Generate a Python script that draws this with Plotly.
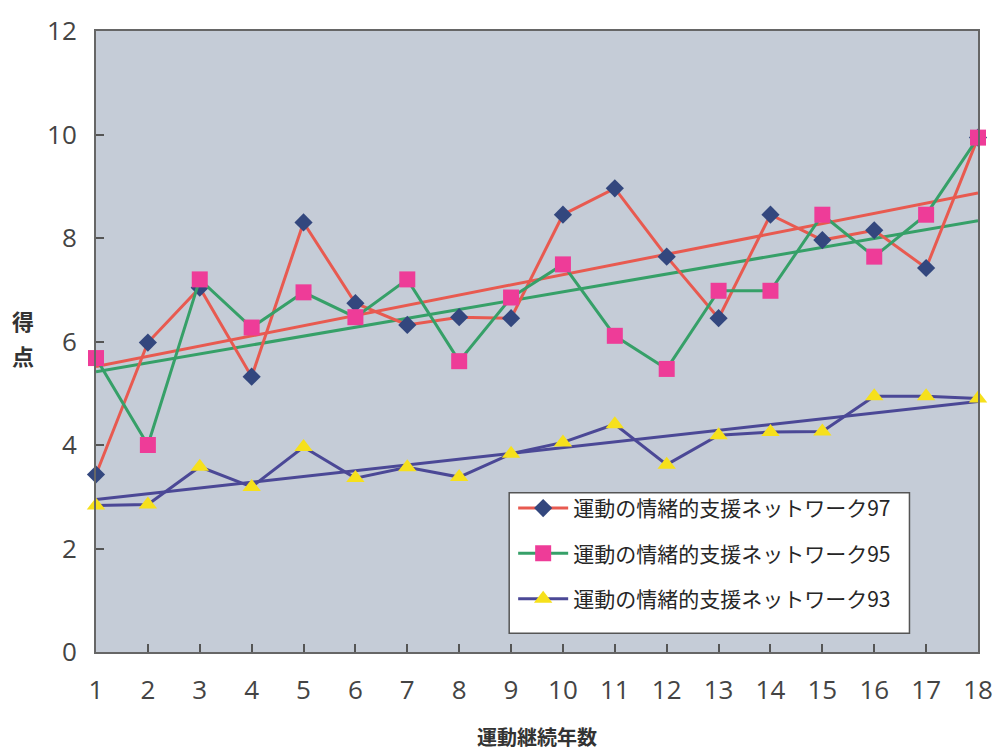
import numpy as np
import plotly.graph_objects as go

years = list(range(1, 19))
series_names = ["運動の情緒的支援ネットワーク97", "運動の情緒的支援ネットワーク95", "運動の情緒的支援ネットワーク93"]
net97 = [3.43, 5.98, 7.04, 5.32, 8.30, 6.74, 6.32, 6.47, 6.45, 8.45, 8.96, 7.64, 6.45, 8.45, 7.96, 8.15, 7.42, 9.94]
net95 = [5.68, 4.00, 7.20, 6.27, 6.95, 6.47, 7.20, 5.62, 6.85, 7.49, 6.11, 5.47, 6.98, 6.98, 8.45, 7.64, 8.45, 9.94]
net93 = [2.83, 2.85, 3.58, 3.19, 3.96, 3.36, 3.57, 3.38, 3.83, 4.05, 4.40, 3.62, 4.19, 4.25, 4.26, 4.94, 4.94, 4.90]
y_ticks = [0, 2, 4, 6, 8, 10, 12]

line_colors = ["#e85a50", "#36a068", "#4b4896"]
marker_colors = ["#33477e", "#ee3c98", "#f6e01c"]
marker_symbols = ["diamond", "square", "triangle-up"]
marker_sizes = [14, 16, 16]

W, H = 1005, 751
L, R, T, B = 96, 21, 20, 99
pw, ph = W - L - R, H - T - B

def px_x(x):
    return (x - L) / pw

def px_y(y):
    return (H - B - y) / ph

fig = go.Figure()
all_series = [net97, net95, net93]

# trend lines (linear fit of each series)
xs = np.array(years, dtype=float)
for vals, lc in zip(all_series, line_colors):
    k, b0 = np.polyfit(xs, np.array(vals), 1)
    fig.add_trace(go.Scatter(x=[xs[0], xs[-1]], y=[k * xs[0] + b0, k * xs[-1] + b0],
                             mode="lines", line=dict(color=lc, width=3),
                             showlegend=False, hoverinfo="skip"))

for i, (vals, name) in enumerate(zip(all_series, series_names)):
    fig.add_trace(go.Scatter(
        x=years, y=vals, name=name, mode="lines+markers",
        line=dict(color=line_colors[i], width=3),
        marker=dict(symbol=marker_symbols[i], color=marker_colors[i], size=marker_sizes[i],
                    line=dict(width=0)),
        legendgroup=f"g{i}", cliponaxis=False))

fig.update_layout(
    width=W, height=H,
    margin=dict(l=L, r=R, t=T, b=B),
    paper_bgcolor="white",
    plot_bgcolor="#c5ccd7",
    showlegend=True,
    legend=dict(x=px_x(516), y=px_y(485), xanchor="left", yanchor="top",
                bgcolor="rgba(0,0,0,0)", borderwidth=0,
                font=dict(family="Noto Sans CJK JP", size=21, color="#262626"),
                tracegroupgap=15, itemwidth=50),
    xaxis=dict(range=[1, 18], tickmode="array", tickvals=years, ticktext=[str(v) for v in years],
               ticks="inside", ticklen=8, tickwidth=1.5, tickcolor="#555555",
               showline=True, linecolor="#666666", linewidth=2, mirror=True,
               showgrid=False, zeroline=False, ticklabelstandoff=14,
               tickfont=dict(family="Open Sans", size=26, color="#444444")),
    yaxis=dict(range=[0, 12], tickmode="array", tickvals=y_ticks, ticktext=[str(v) for v in y_ticks],
               ticks="inside", ticklen=8, tickwidth=1.5, tickcolor="#555555",
               showline=True, linecolor="#666666", linewidth=2, mirror=True,
               showgrid=False, zeroline=False, ticklabelstandoff=12,
               tickfont=dict(family="Open Sans", size=26, color="#444444")),
    shapes=[dict(type="rect", xref="paper", yref="paper",
                 x0=px_x(512), x1=px_x(915), y0=px_y(633), y1=px_y(490),
                 fillcolor="white", line=dict(color="#555555", width=1.5), layer="above")],
    annotations=[
        dict(text="<b>得</b>", x=px_x(23), y=px_y(314), xref="paper", yref="paper",
             xanchor="center", yanchor="middle",
             showarrow=False, font=dict(family="Noto Sans CJK JP", size=22, color="#333333")),
        dict(text="<b>点</b>", x=px_x(23), y=px_y(350), xref="paper", yref="paper",
             xanchor="center", yanchor="middle",
             showarrow=False, font=dict(family="Noto Sans CJK JP", size=22, color="#333333")),
        dict(text="<b>運動継続年数</b>", x=px_x(540), y=px_y(738), xref="paper", yref="paper",
             xanchor="center", yanchor="middle",
             showarrow=False, font=dict(family="Noto Sans CJK JP", size=20, color="#333333")),
    ],
)

fig.write_html("out.html")
